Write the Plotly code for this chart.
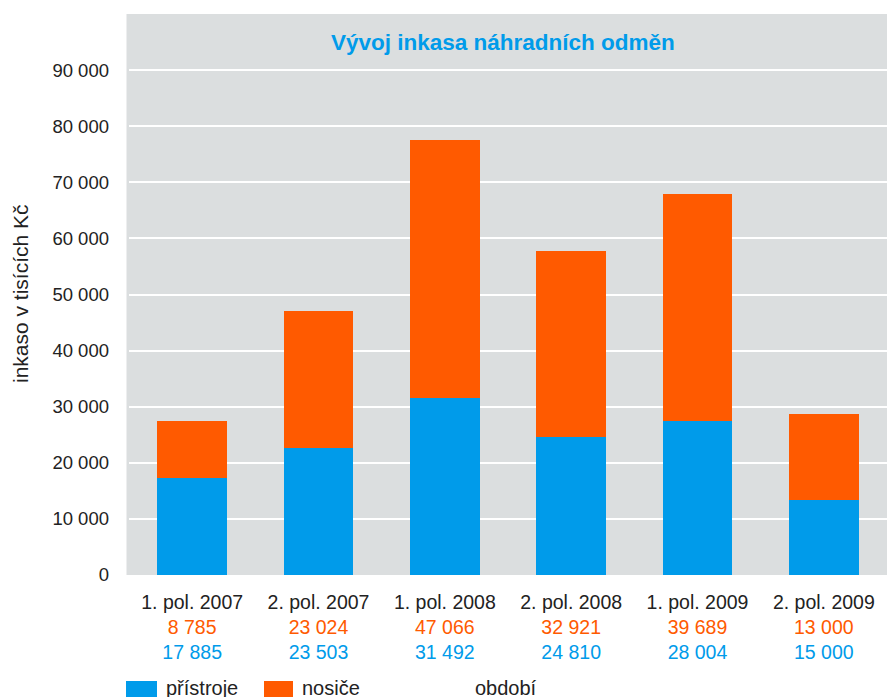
import plotly.graph_objects as go

# ---- data ----
categories = ["1. pol. 2007", "2. pol. 2007", "1. pol. 2008", "2. pol. 2008", "1. pol. 2009", "2. pol. 2009"]
# bar heights as drawn in the picture (thousands CZK)
pristroje_bar = [17370, 22700, 31600, 24600, 27450, 13450]
nosice_bar = [10080, 24330, 46030, 33100, 40400, 15250]
# values printed under the categories
nosice_label = [8785, 23024, 47066, 32921, 39689, 13000]
pristroje_label = [17885, 23503, 31492, 24810, 28004, 15000]
y_ticks = [0, 10000, 20000, 30000, 40000, 50000, 60000, 70000, 80000, 90000]

BLUE = "#009bea"
ORANGE = "#ff5a00"
BG = "#dbdedf"
FONT = "Liberation Sans, Arial, sans-serif"


def fmt(v):
    return f"{v:,}".replace(",", " ")


ticktext = [
    f"{c}<br><span style='color:{ORANGE}'>{fmt(n)}</span><br><span style='color:{BLUE}'>{fmt(p)}</span>"
    for c, n, p in zip(categories, nosice_label, pristroje_label)
]

fig = go.Figure()
fig.add_bar(x=categories, y=pristroje_bar, name="přístroje", marker_color=BLUE, marker_line_width=0)
fig.add_bar(x=categories, y=nosice_bar, name="nosiče", marker_color=ORANGE, marker_line_width=0)

W, H = 888, 697
L, R, T, B = 129, 1, 14, 122
pw, ph = W - L - R, H - T - B


def px(x):
    return (x - L) / pw


def py(y):
    return (H - B - y) / ph


fig.update_layout(
    width=W, height=H,
    margin=dict(l=L, r=R, t=T, b=B, pad=0),
    barmode="stack",
    bargap=0.446,
    plot_bgcolor=BG,
    paper_bgcolor="white",
    showlegend=False,
    font=dict(family=FONT, size=20, color="#222222"),
)
fig.update_yaxes(
    range=[0, 100000],
    tickvals=y_ticks,
    ticktext=[fmt(v) for v in y_ticks],
    tickfont=dict(size=18.5),
    showgrid=True, gridcolor="white", gridwidth=1.5,
    zeroline=False, showline=False, ticks="",
    ticklabelstandoff=19,
    fixedrange=True,
)
fig.update_xaxes(
    tickvals=categories,
    ticktext=ticktext,
    tickangle=0,
    tickfont=dict(size=19.5),
    showgrid=False, zeroline=False, showline=False, ticks="",
    ticklabelstandoff=13,
    fixedrange=True,
)

annotations = [
    dict(text="<b>Vývoj inkasa náhradních odměn</b>", xref="paper", yref="paper",
         x=px(503), y=py(43), xanchor="center", yanchor="middle", showarrow=False,
         font=dict(size=22.5, color=BLUE, family=FONT)),
    dict(text="inkaso v tisících Kč", xref="paper", yref="paper",
         x=px(20), y=py(294), xanchor="center", yanchor="middle", textangle=-90,
         showarrow=False, font=dict(size=21, color="#222222", family=FONT)),
    dict(text="přístroje", xref="paper", yref="paper", x=px(164), y=py(688),
         xanchor="left", yanchor="middle", showarrow=False),
    dict(text="nosiče", xref="paper", yref="paper", x=px(300), y=py(688),
         xanchor="left", yanchor="middle", showarrow=False),
    dict(text="období", xref="paper", yref="paper", x=px(473), y=py(688),
         xanchor="left", yanchor="middle", showarrow=False),
]
fig.update_layout(annotations=annotations)

shapes = [
    dict(type="rect", xref="paper", yref="paper", x0=px(126.5), x1=0, y0=0, y1=1,
         fillcolor=BG, line_width=0, layer="below"),
    dict(type="rect", xref="paper", yref="paper", x0=px(126), x1=px(157), y0=py(699), y1=py(681),
         fillcolor=BLUE, line_width=0),
    dict(type="rect", xref="paper", yref="paper", x0=px(264), x1=px(293), y0=py(699), y1=py(681),
         fillcolor=ORANGE, line_width=0),
]
fig.update_layout(shapes=shapes)

fig.write_html(
    "out.html",
    config={"displayModeBar": False},
    post_script="document.body.style.margin='0';document.body.style.overflow='hidden';",
)
